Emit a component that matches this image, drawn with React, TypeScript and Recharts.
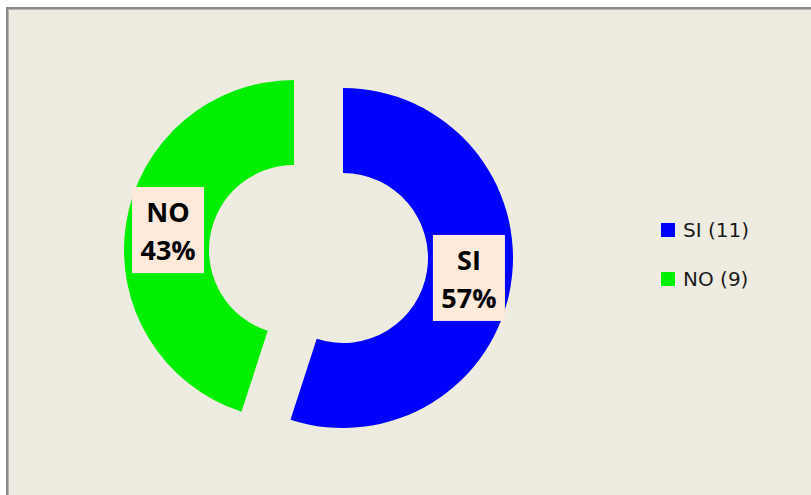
import React from "react";
import { PieChart, Pie, Cell, Legend } from "recharts";

const categories = ["SI", "NO"];
const counts = [11, 9];
const percentLabels = ["57%", "43%"];
const colors = ["#0000FF", "#00EE00"];

const data = categories.map((name, i) => ({ name, value: counts[i] }));

const RAD = Math.PI / 180;

function makeLabel(only: number) {
  return (props: any) => {
    const { cx, cy, midAngle, innerRadius, outerRadius, index } = props;
    if (index !== only) return null;
    const r = (innerRadius + outerRadius) / 2;
    const x = cx + r * Math.cos(-midAngle * RAD);
    const y = cy + r * Math.sin(-midAngle * RAD);
    return (
      <g>
        <rect x={x - 36} y={y - 43} width={72} height={86} fill="#FDEADA" />
        <text
          x={x}
          y={y - 8}
          textAnchor="middle"
          fontFamily="'Open Sans', sans-serif"
          fontWeight={700}
          fontSize={27}
          fill="#000"
        >
          {categories[index]}
        </text>
        <text
          x={x}
          y={y + 30}
          textAnchor="middle"
          fontFamily="'Open Sans', sans-serif"
          fontWeight={700}
          fontSize={27}
          fill="#000"
        >
          {percentLabels[index]}
        </text>
      </g>
    );
  };
}

function LegendBox() {
  return (
    <div style={{ position: "relative", width: 130, height: 70 }}>
      {categories.map((name, i) => (
        <div
          key={name}
          style={{ position: "absolute", left: 0, top: i * 49, height: 20 }}
        >
          <div
            style={{
              position: "absolute",
              left: 0,
              top: 0,
              width: 14,
              height: 14,
              background: colors[i],
            }}
          />
          <div
            style={{
              position: "absolute",
              left: 22,
              top: -4,
              whiteSpace: "nowrap",
              fontFamily: "'DejaVu Sans', sans-serif",
              fontSize: 20,
              lineHeight: "22px",
              color: "#1a1a1a",
            }}
          >
            {name} ({counts[i]})
          </div>
        </div>
      ))}
    </div>
  );
}

export default function App() {
  return (
    <div
      style={{
        position: "absolute",
        left: 0,
        top: 0,
        width: 811,
        height: 495,
        background: "#fff",
        overflow: "hidden",
      }}
    >
      <div
        style={{
          position: "absolute",
          left: 6,
          top: 7,
          width: 840,
          height: 520,
          border: "2px solid #8a8a8a",
          boxShadow: "inset 1px 1px 0 #b5b5b5",
          background: "#EEECE1",
        }}
      />
      <div style={{ position: "absolute", left: 0, top: 0 }}>
        <PieChart
          width={811}
          height={495}
          margin={{ top: 0, right: 0, bottom: 0, left: 0 }}
        >
          <Pie
            data={data}
            dataKey="value"
            nameKey="name"
            cx={343}
            cy={258}
            innerRadius={85}
            outerRadius={170}
            startAngle={90}
            endAngle={-270}
            stroke="none"
            labelLine={false}
            label={makeLabel(0)}
            isAnimationActive={false}
          >
            {data.map((d, i) => (
              <Cell key={d.name} fill={i === 0 ? colors[0] : "transparent"} />
            ))}
          </Pie>
          <Pie
            data={data}
            dataKey="value"
            nameKey="name"
            cx={294}
            cy={250}
            innerRadius={85}
            outerRadius={170}
            startAngle={90}
            endAngle={-270}
            stroke="none"
            labelLine={false}
            label={makeLabel(1)}
            isAnimationActive={false}
          >
            {data.map((d, i) => (
              <Cell key={d.name} fill={i === 1 ? colors[1] : "transparent"} />
            ))}
          </Pie>
          <Legend
            layout="vertical"
            align="right"
            verticalAlign="middle"
            content={() => <LegendBox />}
            wrapperStyle={{ left: 661, top: 223, width: 130, height: 70 }}
          />
        </PieChart>
      </div>
    </div>
  );
}
